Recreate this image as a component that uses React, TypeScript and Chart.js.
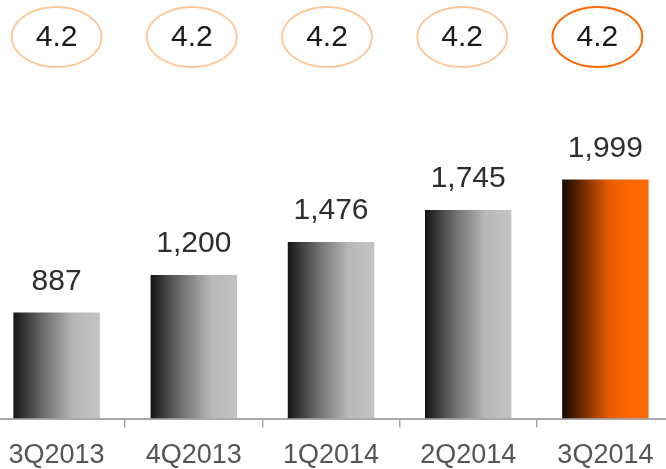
import React, { useEffect, useRef } from "react";
import { Chart, registerables } from "chart.js";

Chart.register(...registerables);

const categories = ["3Q2013", "4Q2013", "1Q2014", "2Q2014", "3Q2014"];
const values = [887, 1200, 1476, 1745, 1999];
const valueLabels = ["887", "1,200", "1,476", "1,745", "1,999"];
const topLabels = ["4.2", "4.2", "4.2", "4.2", "4.2"];

const FONT = "'Liberation Sans', Helvetica, Arial, sans-serif";
const BAR_PCT = 0.63;

export default function App() {
  const ref = useRef<HTMLCanvasElement | null>(null);

  useEffect(() => {
    if (!ref.current) return;
    const last = values.length - 1;

    const overlay = {
      id: "overlay",
      afterDatasetsDraw(chart: any) {
        const ctx = chart.ctx;
        const meta = chart.getDatasetMeta(0);
        ctx.save();
        meta.data.forEach((bar: any, i: number) => {
          // value label
          ctx.fillStyle = "#2e2e2e";
          ctx.font = `30px ${FONT}`;
          ctx.textAlign = "center";
          ctx.textBaseline = "middle";
          ctx.fillText(valueLabels[i], bar.x, bar.y - 31);
          // ellipse
          const ex = bar.x - i * 2;
          ctx.beginPath();
          ctx.ellipse(ex, 37, 45, 30, 0, 0, Math.PI * 2);
          ctx.lineWidth = 2;
          ctx.strokeStyle = i === last ? "#ff6600" : "#fdc99a";
          ctx.stroke();
          ctx.fillStyle = "#1a1a1a";
          ctx.font = `30px ${FONT}`;
          ctx.fillText(topLabels[i], ex, 38);
        });
        ctx.restore();
      },
    };

    const chart = new Chart(ref.current, {
      type: "bar",
      data: {
        labels: categories,
        datasets: [
          {
            data: values,
            categoryPercentage: 1,
            barPercentage: BAR_PCT,
            borderWidth: 0,
            backgroundColor: (c: any) => {
              const ch = c.chart;
              const xs = ch.scales && ch.scales.x;
              if (!xs || !ch.chartArea) return "#888";
              const cx = xs.getPixelForValue(c.dataIndex);
              const half = (xs.width / categories.length) * BAR_PCT / 2;
              const g = ch.ctx.createLinearGradient(cx - half, 0, cx + half, 0);
              if (c.dataIndex === last) {
                g.addColorStop(0, "#140600");
                g.addColorStop(0.55, "#e85d00");
                g.addColorStop(0.8, "#ff6800");
                g.addColorStop(1, "#ff6a00");
              } else {
                g.addColorStop(0, "#151515");
                g.addColorStop(0.35, "#6e6e6e");
                g.addColorStop(0.7, "#b8b8b8");
                g.addColorStop(1, "#c2c2c2");
              }
              return g;
            },
          },
        ],
      },
      options: {
        responsive: false,
        animation: false,
        layout: { padding: { top: 0, bottom: 0, left: 0, right: 0 } },
        plugins: { legend: { display: false }, tooltip: { enabled: false } },
        scales: {
          y: { display: false, min: 0, max: 3500 },
          x: {
            offset: true,
            grid: {
              offset: true,
              drawOnChartArea: false,
              drawTicks: true,
              tickLength: 9,
              color: "#a8a8a8",
              lineWidth: 1.5,
            },
            border: { display: true, color: "#a8a8a8", width: 2 },
            ticks: {
              color: "#555555",
              padding: 12,
              font: { family: FONT, size: 27 },
            },
          },
        },
      },
      plugins: [overlay],
    });
    return () => chart.destroy();
  }, []);

  return (
    <canvas
      ref={ref}
      width={686}
      height={484}
      style={{ position: "absolute", left: -12, top: 0, display: "block" }}
    />
  );
}
